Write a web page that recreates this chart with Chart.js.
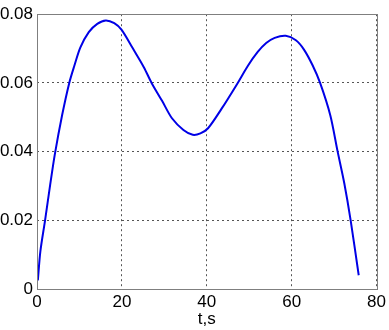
<!DOCTYPE html>
<html>
<head>
<meta charset="utf-8">
<script src="https://cdn.jsdelivr.net/npm/chart.js@4/dist/chart.umd.min.js"></script>
<style>
  html, body { margin: 0; padding: 0; background: #fff; }
  #wrap { width: 389px; height: 330px; }
</style>
</head>
<body>
<div id="wrap"><canvas id="plot"></canvas></div>
<script>
// Curve
const timeS = [0.2, 0.8, 1.9, 3.1, 4.2, 5.9, 7.6, 8.8, 10.2, 12.2, 14.2, 16.2, 18.2, 19.9, 22.5, 25.2, 27, 29.5, 31.8, 34.5, 36.7, 38.5, 40.3, 43.5, 47.3, 49.7, 52, 54, 56, 58.6, 61, 62.9, 64.9, 66.7, 69.1, 70.8, 72.4, 73.9, 75.8];
const values = [0.0025, 0.011, 0.020, 0.0303, 0.0392, 0.0505, 0.060, 0.065, 0.0703, 0.0748, 0.0772, 0.0782, 0.0774, 0.0755, 0.0702, 0.0645, 0.060, 0.0547, 0.0497, 0.0463, 0.0449, 0.0453, 0.0468, 0.0525, 0.060, 0.0650, 0.0690, 0.0716, 0.0731, 0.0737, 0.0724, 0.0697, 0.0652, 0.060, 0.0506, 0.0402, 0.0308, 0.020, 0.004];
const xTicks = [0, 20, 40, 60, 80];
const yTicks = [0, 0.02, 0.04, 0.06, 0.08];

const tickFont = { family: "'Liberation Sans', Arial, sans-serif", size: 17 };

// box around the plot area, like the original frame
const frame = {
  id: 'frame',
  afterDraw(chart) {
    const a = chart.chartArea;
    const ctx = chart.ctx;
    ctx.save();
    ctx.strokeStyle = '#7f7f7f';
    ctx.lineWidth = 1;
    ctx.strokeRect(Math.round(a.left) + 0.5, Math.round(a.top) + 0.5,
      Math.round(a.right - a.left), Math.round(a.bottom - a.top));
    ctx.restore();
  }
};

new Chart(document.getElementById('plot'), {
  type: 'line',
  data: {
    datasets: [{
      data: timeS.map((t, i) => ({ x: t, y: values[i] })),
      borderColor: '#0000e6',
      borderWidth: 2,
      pointRadius: 0,
      fill: false,
      tension: 0.3
    }]
  },
  options: {
    responsive: true,
    maintainAspectRatio: false,
    animation: false,
    layout: { padding: { left: 0, right: 9, top: 6, bottom: 0 } },
    plugins: { legend: { display: false }, tooltip: { enabled: false } },
    scales: {
      x: {
        type: 'linear',
        min: 0,
        max: 80,
        afterBuildTicks: s => { s.ticks = xTicks.map(v => ({ value: v })); },
        afterFit: s => { s.height = 41; },
        ticks: { color: '#000', font: tickFont, padding: 3, maxRotation: 0 },
        grid: { color: '#555', lineWidth: 1, drawTicks: false },
        border: { display: false, dash: [2, 3] },
        title: { display: true, text: 't,s', color: '#000', font: tickFont, padding: 0 }
      },
      y: {
        min: 0,
        max: 0.08,
        afterBuildTicks: s => { s.ticks = yTicks.map(v => ({ value: v })); },
        afterFit: s => { s.width = 37; },
        ticks: {
          color: '#000', font: tickFont, padding: 4,
          callback: v => v === 0 ? '0' : v.toFixed(2)
        },
        grid: { color: '#555', lineWidth: 1, drawTicks: false },
        border: { display: false, dash: [2, 3] }
      }
    }
  },
  plugins: [frame]
});
</script>
</body>
</html>
